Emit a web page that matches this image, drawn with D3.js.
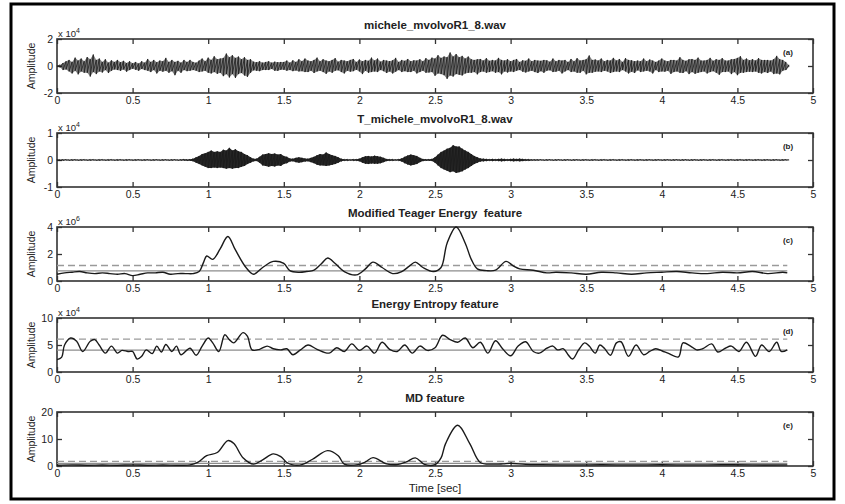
<!DOCTYPE html>
<html lang="en">
<head>
<meta charset="utf-8">
<style>
  body {margin: 0; background: #fff;}
  svg text {font-family: "Liberation Sans", Arial, sans-serif; fill: #222; white-space: pre;}
</style>
</head>
<body>
<svg id="chart" width="845" height="504"></svg>
<script src="https://d3js.org/d3.v7.min.js"></script>
<script>
// ---- data ----
var sampleStep = 0.02;   // seconds between envelope samples of the two waveforms

// (a) raw waveform envelope, units of 10^4
var waveAHigh = [
  0.02,0.08,0.22,0.35,0.45, 0.3,0.62,0.4,0.55,0.35, 0.66,0.5,0.85,0.45,0.55,
  0.3,0.5,0.25,0.42,0.3, 0.45,0.28,0.38,0.22,0.35, 0.2,0.3,0.18,0.35,0.25,
  0.52,0.3,0.45,0.28,0.4, 0.35,0.6,0.3,0.45,0.3, 0.38,0.25,0.45,0.3,0.45,
  0.3,0.25,0.4,0.55,0.35, 0.62,0.45,0.72,0.5,0.55, 0.6,0.92,0.65,0.8,0.6,
  0.7,0.5,0.65,0.45,0.5, 0.32,0.28,0.35,0.25,0.3, 0.35,0.25,0.32,0.28,0.3,
  0.3,0.4,0.25,0.42,0.3, 0.5,0.35,0.55,0.4,0.35, 0.45,0.62,0.35,0.5,0.4,
  0.35,0.45,0.58,0.32,0.45, 0.4,0.35,0.45,0.52,0.3, 0.48,0.35,0.45,0.38,0.62,
  0.4,0.55,0.32,0.45,0.4, 0.36,0.42,0.6,0.3,0.45, 0.38,0.52,0.35,0.42,0.4,
  0.5,0.35,0.58,0.45,0.62, 0.55,0.8,0.6,0.7,0.65, 1.0,0.7,0.88,0.65,0.75,
  0.55,0.7,0.5,0.45,0.5, 0.52,0.4,0.58,0.38,0.45, 0.4,0.6,0.45,0.4,0.5,
  0.35,0.45,0.52,0.3,0.42, 0.38,0.55,0.35,0.45,0.4, 0.38,0.45,0.42,0.32,0.55,
  0.35,0.45,0.4,0.45,0.3, 0.52,0.35,0.58,0.4,0.45, 0.5,0.78,0.45,0.48,0.4,
  0.55,0.35,0.45,0.4,0.6, 0.4,0.52,0.3,0.58,0.45, 0.42,0.35,0.4,0.35,0.55,
  0.35,0.48,0.4,0.3,0.4, 0.55,0.4,0.35,0.45,0.45, 0.4,0.65,0.45,0.38,0.5,
  0.52,0.45,0.62,0.4,0.4, 0.45,0.6,0.38,0.5,0.45, 0.58,0.4,0.4,0.5,0.52,
  0.6,0.72,0.45,0.55,0.42, 0.5,0.4,0.58,0.45,0.45, 0.45,0.4,0.5,0.75,0.5,
  0.45,0.3,0.08
];
var waveALow = [
  -0.02,-0.1,-0.3,-0.25,-0.4, -0.55,-0.35,-0.62,-0.4,-0.5, -0.5,-0.78,-0.45,-0.6,-0.4,
  -0.48,-0.3,-0.52,-0.35,-0.25, -0.3,-0.36,-0.25,-0.42,-0.3, -0.2,-0.28,-0.35,-0.22,-0.3,
  -0.35,-0.45,-0.3,-0.55,-0.35, -0.42,-0.35,-0.5,-0.38,-0.68, -0.35,-0.5,-0.3,-0.38,-0.35,
  -0.3,-0.35,-0.45,-0.4,-0.35, -0.5,-0.55,-0.45,-0.58,-0.5, -0.75,-0.6,-0.85,-0.6,-0.88,
  -0.6,-0.52,-0.7,-0.8,-0.5, -0.32,-0.35,-0.38,-0.3,-0.3, -0.3,-0.22,-0.35,-0.36,-0.28,
  -0.28,-0.35,-0.3,-0.38,-0.33, -0.4,-0.38,-0.45,-0.45,-0.35, -0.52,-0.4,-0.35,-0.45,-0.58,
  -0.4,-0.5,-0.35,-0.32,-0.45, -0.55,-0.35,-0.42,-0.38,-0.28, -0.4,-0.6,-0.35,-0.5,-0.45,
  -0.4,-0.45,-0.3,-0.38,-0.52, -0.4,-0.55,-0.42,-0.3,-0.45, -0.38,-0.45,-0.45,-0.35,-0.55,
  -0.45,-0.35,-0.5,-0.48,-0.45, -0.72,-0.55,-0.6,-0.68,-0.95, -0.7,-0.78,-0.6,-0.65,-0.7,
  -0.55,-0.5,-0.5,-0.45,-0.62, -0.45,-0.4,-0.5,-0.45,-0.38, -0.5,-0.45,-0.62,-0.4,-0.48,
  -0.4,-0.45,-0.35,-0.3,-0.42, -0.48,-0.4,-0.35,-0.45,-0.52, -0.38,-0.5,-0.35,-0.32,-0.45,
  -0.42,-0.35,-0.55,-0.4,-0.3, -0.45,-0.4,-0.5,-0.5,-0.35, -0.62,-0.5,-0.5,-0.42,-0.4,
  -0.45,-0.35,-0.4,-0.52,-0.45, -0.4,-0.45,-0.3,-0.4,-0.55, -0.42,-0.52,-0.32,-0.45,-0.4,
  -0.35,-0.4,-0.55,-0.3,-0.45, -0.4,-0.42,-0.35,-0.58,-0.45, -0.4,-0.5,-0.52,-0.38,-0.6,
  -0.45,-0.58,-0.5,-0.45,-0.4, -0.55,-0.45,-0.38,-0.5,-0.65, -0.45,-0.45,-0.4,-0.6,-0.45,
  -0.68,-0.5,-0.5,-0.45,-0.42, -0.45,-0.4,-0.5,-0.55,-0.45, -0.52,-0.4,-0.6,-0.55,-0.62,
  -0.35,-0.3,-0.08
];

// (b) trimmed waveform envelope, units of 10^4
var waveBHigh = [
  0.02,0.01,0.02,0.02,0.01, 0.02,0.02,0.01,0.02,0.02, 0.01,0.02,0.02,0.01,0.02,
  0.02,0.01,0.02,0.02,0.01, 0.02,0.02,0.01,0.02,0.02, 0.01,0.02,0.02,0.01,0.02,
  0.02,0.01,0.02,0.02,0.01, 0.02,0.02,0.01,0.02,0.02, 0.01,0.02,0.03,0.02,0.03,
  0.05,0.1,0.15,0.22,0.25, 0.3,0.35,0.3,0.32,0.3, 0.38,0.35,0.45,0.35,0.4,
  0.32,0.3,0.22,0.18,0.1, 0.05,0.05,0.12,0.2,0.22, 0.25,0.22,0.24,0.2,0.22,
  0.15,0.12,0.06,0.05,0.08, 0.1,0.08,0.06,0.05,0.08, 0.12,0.18,0.22,0.2,0.28,
  0.22,0.18,0.15,0.1,0.05, 0.03,0.03,0.02,0.03,0.03, 0.05,0.1,0.14,0.15,0.13,
  0.16,0.14,0.12,0.08,0.04, 0.03,0.03,0.02,0.03,0.06, 0.12,0.17,0.2,0.18,0.15,
  0.08,0.04,0.03,0.03,0.04, 0.1,0.2,0.3,0.35,0.42, 0.45,0.55,0.5,0.5,0.42,
  0.35,0.3,0.22,0.15,0.1, 0.06,0.05,0.04,0.03,0.04, 0.03,0.04,0.05,0.04,0.03,
  0.04,0.05,0.04,0.05,0.04, 0.03,0.03,0.02,0.02,0.02,
  0.02,0.01,0.02,0.02,0.01, 0.02,0.02,0.01,0.02,0.02, 0.01,0.02,0.02,0.01,0.02,
  0.02,0.01,0.02,0.02,0.01, 0.02,0.02,0.01,0.02,0.02, 0.01,0.02,0.02,0.01,0.02,
  0.02,0.01,0.02,0.02,0.01, 0.02,0.02,0.01,0.02,0.02, 0.01,0.02,0.02,0.01,0.02,
  0.02,0.01,0.02,0.02,0.01, 0.02,0.02,0.01,0.02,0.02, 0.01,0.02,0.02,0.01,0.02,
  0.02,0.01,0.02,0.02,0.01, 0.02,0.02,0.01,0.02,0.02, 0.01,0.02,0.02,0.01,0.02,
  0.02,0.01,0.02,0.02,0.01, 0.02,0.02,0.01
];
var waveBLow = [
  -0.01,-0.02,-0.02,-0.01,-0.02, -0.02,-0.01,-0.02,-0.02,-0.01, -0.02,-0.02,-0.01,-0.02,-0.02,
  -0.01,-0.02,-0.02,-0.01,-0.02, -0.02,-0.01,-0.02,-0.02,-0.01, -0.02,-0.02,-0.01,-0.02,-0.02,
  -0.01,-0.02,-0.02,-0.01,-0.02, -0.02,-0.01,-0.02,-0.02,-0.01, -0.02,-0.02,-0.02,-0.03,-0.03,
  -0.05,-0.1,-0.15,-0.2,-0.25, -0.3,-0.3,-0.28,-0.3,-0.28, -0.3,-0.32,-0.3,-0.32,-0.3,
  -0.3,-0.25,-0.22,-0.15,-0.1, -0.05,-0.04,-0.1,-0.2,-0.22, -0.25,-0.22,-0.24,-0.2,-0.22,
  -0.15,-0.12,-0.06,-0.05,-0.08, -0.1,-0.08,-0.06,-0.05,-0.08, -0.12,-0.18,-0.2,-0.2,-0.22,
  -0.2,-0.18,-0.15,-0.1,-0.05, -0.03,-0.03,-0.02,-0.03,-0.03, -0.05,-0.1,-0.14,-0.15,-0.13,
  -0.14,-0.14,-0.12,-0.08,-0.04, -0.03,-0.03,-0.02,-0.03,-0.06, -0.12,-0.17,-0.2,-0.18,-0.15,
  -0.08,-0.04,-0.03,-0.03,-0.04, -0.1,-0.2,-0.3,-0.35,-0.4, -0.45,-0.42,-0.48,-0.45,-0.42,
  -0.35,-0.3,-0.22,-0.15,-0.1, -0.06,-0.05,-0.04,-0.03,-0.04, -0.03,-0.04,-0.05,-0.04,-0.03,
  -0.04,-0.05,-0.04,-0.05,-0.04, -0.03,-0.03,-0.02,-0.02,-0.02,
  -0.01,-0.02,-0.02,-0.01,-0.02, -0.02,-0.01,-0.02,-0.02,-0.01, -0.02,-0.02,-0.01,-0.02,-0.02,
  -0.01,-0.02,-0.02,-0.01,-0.02, -0.02,-0.01,-0.02,-0.02,-0.01, -0.02,-0.02,-0.01,-0.02,-0.02,
  -0.01,-0.02,-0.02,-0.01,-0.02, -0.02,-0.01,-0.02,-0.02,-0.01, -0.02,-0.02,-0.01,-0.02,-0.02,
  -0.01,-0.02,-0.02,-0.01,-0.02, -0.02,-0.01,-0.02,-0.02,-0.01, -0.02,-0.02,-0.01,-0.02,-0.02,
  -0.01,-0.02,-0.02,-0.01,-0.02, -0.02,-0.01,-0.02,-0.02,-0.01, -0.02,-0.02,-0.01,-0.02,-0.02,
  -0.01,-0.02,-0.02,-0.01,-0.02, -0.02,-0.01,-0.01
];

// (c) modified Teager energy, units of 10^6
var mteTime = [0,0.05,0.1,0.15,0.2,0.25,0.3,0.35,0.4,0.45,0.5,0.55,0.6,0.65,0.7,0.75,0.8,0.85,0.9,0.94,
  0.97,0.99,1.03,1.08,1.13,1.18,1.25,1.3,1.36,1.43,1.5,1.54,1.6,1.65,1.7,1.75,1.79,1.84,1.9,1.98,
  2.04,2.09,2.15,2.22,2.28,2.33,2.37,2.42,2.49,2.54,2.58,2.64,2.7,2.74,2.78,2.84,2.9,2.97,3.02,3.06,
  3.15,3.24,3.3,3.4,3.5,3.6,3.7,3.8,3.9,4.0,4.1,4.2,4.3,4.4,4.5,4.6,4.7,4.8,4.83];
var mteValue = [0.5,0.6,0.65,0.7,0.6,0.55,0.6,0.55,0.5,0.55,0.4,0.5,0.6,0.6,0.65,0.5,0.55,0.55,0.55,0.7,
  1.4,1.85,1.6,2.4,3.3,2.3,1.0,0.5,1.0,1.45,1.3,0.77,0.65,0.7,0.8,1.3,1.7,1.3,0.7,0.45,
  0.9,1.4,1.0,0.55,0.7,1.1,1.4,1.0,0.7,1.0,2.8,4.0,2.8,1.6,0.9,0.77,0.8,1.45,1.1,0.9,
  0.8,0.6,0.65,0.6,0.5,0.65,0.6,0.5,0.6,0.65,0.7,0.6,0.55,0.65,0.6,0.7,0.55,0.65,0.6];
var mteMean = 0.75, mteThreshold = 1.15;

// (d) energy entropy, units of 10^4
var entTime = [0,0.03,0.05,0.09,0.13,0.17,0.22,0.25,0.28,0.32,0.36,0.4,0.43,0.47,0.5,0.53,0.56,0.59,0.63,0.66,
  0.69,0.72,0.76,0.79,0.82,0.88,0.92,0.96,1.0,1.03,1.07,1.11,1.14,1.17,1.23,1.26,1.29,1.34,1.39,1.43,
  1.48,1.52,1.56,1.61,1.66,1.72,1.8,1.85,1.9,1.95,2.0,2.05,2.1,2.15,2.2,2.25,2.3,2.35,2.4,2.45,
  2.5,2.55,2.6,2.65,2.7,2.75,2.8,2.85,2.9,2.95,3.0,3.05,3.1,3.15,3.19,3.24,3.28,3.31,3.35,3.38,
  3.41,3.45,3.49,3.52,3.56,3.59,3.62,3.66,3.7,3.73,3.78,3.83,3.88,3.92,3.96,4.01,4.04,4.11,4.14,4.19,
  4.23,4.27,4.33,4.37,4.42,4.46,4.51,4.56,4.62,4.66,4.71,4.76,4.79,4.83];
var entValue = [2.3,2.7,5.0,6.3,5.7,3.8,5.7,6.0,4.95,3.5,4.8,3.5,4.0,3.8,3.8,2.4,2.9,4.1,3.4,4.8,
  3.7,5.1,3.8,4.8,3.2,4.4,3.1,4.8,6.3,5.4,3.8,6.9,6.0,5.4,7.3,6.6,4.1,4.2,4.8,4.3,
  4.1,4.3,3.2,4.1,5.0,4.2,3.5,4.5,3.8,5.2,4.0,4.8,3.5,5.5,4.2,3.8,5.0,3.5,4.8,4.0,
  4.5,6.8,6.0,5.5,6.3,4.5,5.5,3.5,5.8,4.2,3.0,4.8,5.6,3.8,3.5,4.4,4.8,4.1,4.3,3.2,
  2.4,4.1,5.4,4.8,3.5,5.0,4.4,3.1,5.4,5.6,2.9,5.0,3.2,3.8,4.3,3.8,3.5,2.8,5.4,4.8,
  4.1,4.3,5.2,3.7,4.4,4.8,3.8,5.5,2.9,5.0,3.8,5.5,3.8,4.1];
var entMean = 4.05, entThreshold = 6.1;

// (e) MD feature
var mdTime = [0,0.1,0.2,0.3,0.4,0.5,0.6,0.7,0.8,0.88,0.93,0.99,1.06,1.13,1.17,1.23,1.3,1.36,1.43,1.48,
  1.52,1.56,1.62,1.69,1.79,1.86,1.9,1.99,2.04,2.09,2.18,2.25,2.31,2.37,2.43,2.5,2.54,2.57,2.65,2.73,
  2.8,2.89,2.95,3.0,3.1,3.2,3.4,3.6,3.8,4.0,4.2,4.4,4.6,4.83];
var mdValue = [0.3,0.4,0.3,0.35,0.3,0.4,0.3,0.35,0.3,0.4,1.3,3.8,5.0,9.4,8.3,3.1,0.7,2.3,4.5,3.5,
  1.3,0.4,0.5,2.5,5.7,3.8,0.7,0.5,1.5,3.1,0.8,0.5,1.5,3.0,0.6,0.5,3.0,8.3,15.1,8.3,
  1.3,0.7,0.8,1.0,0.6,0.5,0.4,0.45,0.4,0.45,0.4,0.45,0.4,0.4];
var mdMean = 1.0, mdThreshold = 1.7;

var xTicks = [0, 0.5, 1, 1.5, 2, 2.5, 3, 3.5, 4, 4.5, 5];
var titles = ["michele_mvolvoR1_8.wav", "T_michele_mvolvoR1_8.wav",
  "Modified Teager Energy  feature", "Energy Entropy feature", "MD feature"];
var tags = ["(a)", "(b)", "(c)", "(d)", "(e)"];
var yTickSets = [[-2, 0, 2], [-1, 0, 1], [0, 2, 4], [0, 5, 10], [0, 10, 20]];
var exponents = ["4", "4", "6", "4", null];

// ---- layout ----
var svg = d3.select("#chart");
var tops = [39, 133, 227, 318, 412];
var plotH = 54;
var x = d3.scaleLinear().domain([0, 5]).range([57, 813]);
var axisColor = "#333", lineColor = "#1a1a1a";

svg.append("rect")
  .attr("x", 11).attr("y", 4).attr("width", 823).attr("height", 495)
  .attr("fill", "none").attr("stroke", "#000").attr("stroke-width", 3);

var panels = [0, 1, 2, 3, 4].map(function(i) {
  var ticks = yTickSets[i];
  return {
    i: i,
    top: tops[i],
    y: d3.scaleLinear().domain([ticks[0], ticks[2]]).range([tops[i] + plotH, tops[i]])
  };
});

panels.forEach(function(p) {
  var g = svg.append("g");
  var bottom = p.top + plotH;

  // axes with inward ticks, MATLAB style
  g.append("g").attr("transform", "translate(0," + bottom + ")")
    .call(d3.axisBottom(x).tickValues(xTicks).tickSizeInner(-5).tickSizeOuter(0).tickPadding(4)
      .tickFormat(function(d) { return String(d); }));
  g.append("g").attr("transform", "translate(0," + p.top + ")")
    .call(d3.axisTop(x).tickValues(xTicks).tickSizeInner(-5).tickSizeOuter(0).tickFormat(""));
  g.append("g").attr("transform", "translate(" + x(0) + ",0)")
    .call(d3.axisLeft(p.y).tickValues(yTickSets[p.i]).tickSizeInner(-5).tickSizeOuter(0).tickPadding(4)
      .tickFormat(function(d) { return String(d); }));
  g.append("g").attr("transform", "translate(" + x(5) + ",0)")
    .call(d3.axisRight(p.y).tickValues(yTickSets[p.i]).tickSizeInner(-5).tickSizeOuter(0).tickFormat(""));

  g.selectAll(".domain").attr("stroke", "none");
  g.selectAll(".tick line").attr("stroke", axisColor).attr("stroke-width", 1.3);
  g.selectAll(".tick text").attr("font-size", 10.5).attr("fill", "#222");

  g.append("rect")
    .attr("x", x(0)).attr("y", p.top).attr("width", x(5) - x(0)).attr("height", plotH)
    .attr("fill", "none").attr("stroke", axisColor).attr("stroke-width", 1.6);

  // title, tag, y label, exponent
  g.append("text").attr("x", (x(0) + x(5)) / 2).attr("y", p.top - 10)
    .attr("text-anchor", "middle").attr("font-size", 11.5).attr("font-weight", "bold")
    .text(titles[p.i]);
  g.append("text").attr("x", 788).attr("y", p.top + 16)
    .attr("text-anchor", "middle").attr("font-size", 8).attr("font-weight", "bold")
    .text(tags[p.i]);
  g.append("text")
    .attr("transform", "translate(35," + (p.top + plotH / 2) + ") rotate(-90)")
    .attr("text-anchor", "middle").attr("font-size", 10.5)
    .text("Amplitude");
  if (exponents[p.i]) {
    var ex = g.append("text").attr("x", 58).attr("y", p.top - 2).attr("font-size", 9.5);
    ex.append("tspan").text("x 10");
    ex.append("tspan").attr("dy", -4).attr("font-size", 7).text(exponents[p.i]);
  }
  p.g = g;
});

// dense waveform: filled envelope band plus a stroke through every sample extreme
function drawWave(p, high, low, bandOpacity) {
  var bins = high.map(function(h, i) { return [i * sampleStep, h, low[i]]; });
  p.g.append("path")
    .datum(bins)
    .attr("fill", lineColor).attr("fill-opacity", bandOpacity).attr("stroke", "none")
    .attr("d", d3.area()
      .x(function(d) { return x(d[0]); })
      .y0(function(d) { return p.y(d[2]); })
      .y1(function(d) { return p.y(d[1]); }));
  var pts = [];
  bins.forEach(function(b) { pts.push([b[0], b[1]]); pts.push([b[0], b[2]]); });
  p.g.append("path")
    .datum(pts)
    .attr("fill", "none").attr("stroke", lineColor).attr("stroke-width", 0.8)
    .attr("d", d3.line().x(function(d) { return x(d[0]); }).y(function(d) { return p.y(d[1]); }));
}
drawWave(panels[0], waveAHigh, waveALow, 0.55);
drawWave(panels[1], waveBHigh, waveBLow, 0.95);

function thresholds(p, mean, thr, endT) {
  p.g.append("line").attr("x1", x(0)).attr("x2", x(endT))
    .attr("y1", p.y(mean)).attr("y2", p.y(mean))
    .attr("stroke", "#8c8c8c").attr("stroke-width", 1.2);
  p.g.append("line").attr("x1", x(0)).attr("x2", x(endT))
    .attr("y1", p.y(thr)).attr("y2", p.y(thr))
    .attr("stroke", "#9a9a9a").attr("stroke-width", 1.3).attr("stroke-dasharray", "7,4");
}

// (c), (d), (e) feature curves
[[panels[2], mteTime, mteValue, mteMean, mteThreshold],
 [panels[3], entTime, entValue, entMean, entThreshold],
 [panels[4], mdTime, mdValue, mdMean, mdThreshold]].forEach(function(c) {
  var p = c[0];
  thresholds(p, c[3], c[4], 4.83);
  var pts = c[1].map(function(t, i) { return [t, c[2][i]]; });
  p.g.append("path")
    .datum(pts)
    .attr("fill", "none").attr("stroke", lineColor).attr("stroke-width", 1.4)
    .attr("d", d3.line().x(function(d) { return x(d[0]); }).y(function(d) { return p.y(d[1]); })
      .curve(d3.curveCatmullRom));
});

svg.append("text").attr("x", (x(0) + x(5)) / 2).attr("y", 492)
  .attr("text-anchor", "middle").attr("font-size", 11.5)
  .text("Time [sec]");
</script>
</body>
</html>
